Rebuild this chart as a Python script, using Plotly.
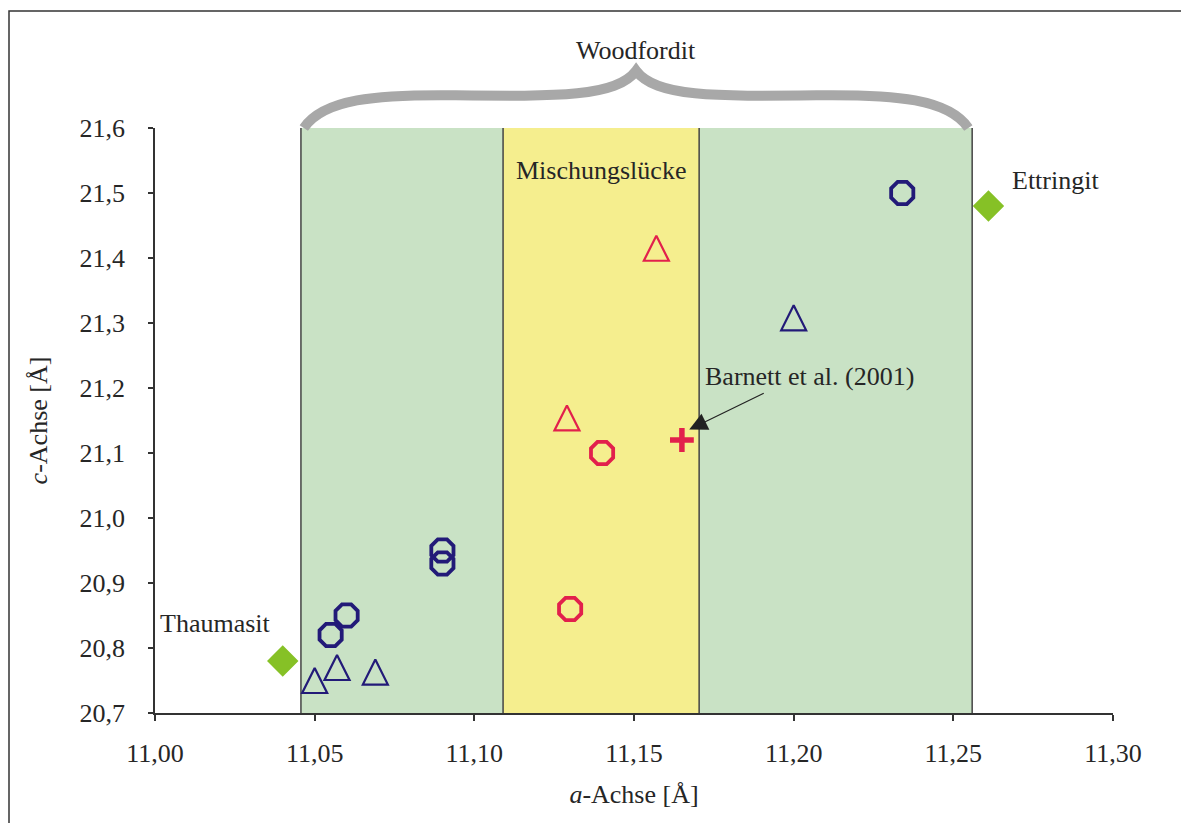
import plotly.graph_objects as go

# ---- data ----
blue_circle_a = [11.234, 11.090, 11.090, 11.060, 11.055]
blue_circle_c = [21.50, 20.95, 20.93, 20.85, 20.82]
blue_tri_a = [11.050, 11.057, 11.069, 11.200]
blue_tri_c = [20.75, 20.77, 20.763, 21.308]
red_tri_a = [11.157, 11.129]
red_tri_c = [21.415, 21.154]
red_circle_a = [11.140, 11.130]
red_circle_c = [21.10, 20.86]
barnett_a = [11.165]
barnett_c = [21.12]
end_member_a = [11.040, 11.261]
end_member_c = [20.78, 21.48]
end_member_names = ["Thaumasit", "Ettringit"]

x_ticks = [11.00, 11.05, 11.10, 11.15, 11.20, 11.25, 11.30]
x_ticklabels = ["11,00", "11,05", "11,10", "11,15", "11,20", "11,25", "11,30"]
y_ticks = [20.7, 20.8, 20.9, 21.0, 21.1, 21.2, 21.3, 21.4, 21.5, 21.6]
y_ticklabels = ["20,7", "20,8", "20,9", "21,0", "21,1", "21,2", "21,3", "21,4", "21,5", "21,6"]

woodfordit_left = 11.0457
gap_left = 11.109
gap_right = 11.1704
woodfordit_right = 11.2559

X_RANGE = [11.0, 11.3]
Y_RANGE = [20.7, 21.6]

BLUE = "#221a78"
RED = "#e2204c"
GREEN = "#86c126"
TXT = "#262626"
FONT = "Liberation Serif"
FS = 26

fig = go.Figure()

tri = dict(symbol="arrow-down-open", angle=180, standoff=12.5, size=25)

fig.add_trace(go.Scatter(x=blue_circle_a, y=blue_circle_c, mode="markers",
                         marker=dict(symbol="octagon-open", size=24, color=BLUE,
                                     line=dict(width=3.8, color=BLUE)), showlegend=False))
fig.add_trace(go.Scatter(x=blue_tri_a, y=blue_tri_c, mode="markers",
                         marker=dict(**tri, color=BLUE, line=dict(width=2.2, color=BLUE)),
                         showlegend=False))
fig.add_trace(go.Scatter(x=red_tri_a, y=red_tri_c, mode="markers",
                         marker=dict(**tri, color=RED, line=dict(width=2.2, color=RED)),
                         showlegend=False))
fig.add_trace(go.Scatter(x=red_circle_a, y=red_circle_c, mode="markers",
                         marker=dict(symbol="octagon-open", size=24, color=RED,
                                     line=dict(width=3.8, color=RED)), showlegend=False))
fig.add_trace(go.Scatter(x=barnett_a, y=barnett_c, mode="markers",
                         marker=dict(symbol="cross-thin-open", size=17, color=RED,
                                     line=dict(width=5.5, color=RED)), showlegend=False))
fig.add_trace(go.Scatter(x=end_member_a, y=end_member_c, mode="markers",
                         marker=dict(symbol="diamond", size=22, color=GREEN,
                                     line=dict(width=2, color=GREEN)), showlegend=False))

shapes = []
# coloured regions
for x0, x1, col in [(woodfordit_left, gap_left, "#c9e2c5"),
                    (gap_left, gap_right, "#f5ee8e"),
                    (gap_right, woodfordit_right, "#c9e2c5")]:
    shapes.append(dict(type="rect", xref="x", yref="y", x0=x0, x1=x1,
                       y0=Y_RANGE[0], y1=Y_RANGE[1], fillcolor=col,
                       line=dict(width=0), layer="below"))
for xv in [woodfordit_left, gap_left, gap_right, woodfordit_right]:
    shapes.append(dict(type="line", xref="x", yref="y", x0=xv, x1=xv,
                       y0=Y_RANGE[0], y1=Y_RANGE[1],
                       line=dict(color="#444444", width=1.5), layer="below"))

# curly brace above the Woodfordit range (paper coords derived from data range)
def px(xv):
    return (xv - X_RANGE[0]) / (X_RANGE[1] - X_RANGE[0])

L = px(woodfordit_left) + 0.003
R = px(woodfordit_right) - 0.004
M = (L + R) / 2
W = R - L
def bx(f):
    return L + f * W
brace = (f"M {bx(0):.4f},1.0 "
         f"C {bx(0.03):.4f},1.05 {bx(0.11):.4f},1.057 {bx(0.22):.4f},1.056 "
         f"C {bx(0.38):.4f},1.054 {bx(0.47):.4f},1.052 {M:.4f},1.098 "
         f"C {bx(0.53):.4f},1.052 {bx(0.62):.4f},1.054 {bx(0.78):.4f},1.056 "
         f"C {bx(0.89):.4f},1.057 {bx(0.97):.4f},1.05 {bx(1):.4f},1.0")
shapes.append(dict(type="path", xref="paper", yref="paper", path=brace,
                   line=dict(color="#a8a8a8", width=10)))

# outer frame
shapes.append(dict(type="rect", xref="paper", yref="paper", x0=-0.1524, x1=1.08,
                   y0=-0.21, y1=1.2, line=dict(color="#333333", width=1.5)))

tf = dict(family=FONT, size=FS, color=TXT)
annotations = [
    dict(x=M, y=1.133, xref="paper", yref="paper", text="Woodfordit", showarrow=False,
         yanchor="middle", font=tf),
    dict(x=(gap_left + gap_right) / 2, y=21.535, xref="x", yref="y", text="Mischungslücke",
         showarrow=False, yanchor="middle", font=tf),
    dict(x=11.2051, y=21.217, xref="x", yref="y", text="Barnett et al. (2001)",
         showarrow=False, yanchor="middle", font=tf),
    dict(x=11.1673, y=21.136, xref="x", yref="y", text="", showarrow=True,
         ax=76, ay=-37, arrowhead=2, arrowsize=3, arrowwidth=1.2, arrowcolor="#222222"),
    dict(x=11.2819, y=21.52, xref="x", yref="y", text=end_member_names[1],
         showarrow=False, yanchor="middle", font=tf),
    dict(x=11.0191, y=20.837, xref="x", yref="y", text=end_member_names[0],
         showarrow=False, yanchor="middle", font=tf),
]

fig.update_layout(
    width=1181, height=823,
    margin=dict(l=155, r=68, t=128, b=110),
    plot_bgcolor="white", paper_bgcolor="white",
    shapes=shapes, annotations=annotations,
    font=tf,
    xaxis=dict(range=X_RANGE, tickvals=x_ticks, ticktext=x_ticklabels,
               showgrid=False, zeroline=False, showline=True, linecolor="#333333", linewidth=1.5,
               ticks="outside", ticklen=6, tickcolor="#333333", tickwidth=1.5,
               ticklabelstandoff=10, tickfont=tf,
               title=dict(text="<i>a</i>-Achse [Å]", standoff=18, font=tf)),
    yaxis=dict(range=Y_RANGE, tickvals=y_ticks, ticktext=y_ticklabels,
               showgrid=False, zeroline=False, showline=True, linecolor="#333333", linewidth=1.5,
               ticks="outside", ticklen=5, tickcolor="#333333", tickwidth=1.5,
               ticklabelstandoff=18, tickfont=tf,
               title=dict(text="<i>c</i>-Achse [Å]", standoff=24, font=tf)),
)

fig.write_html("out.html")
